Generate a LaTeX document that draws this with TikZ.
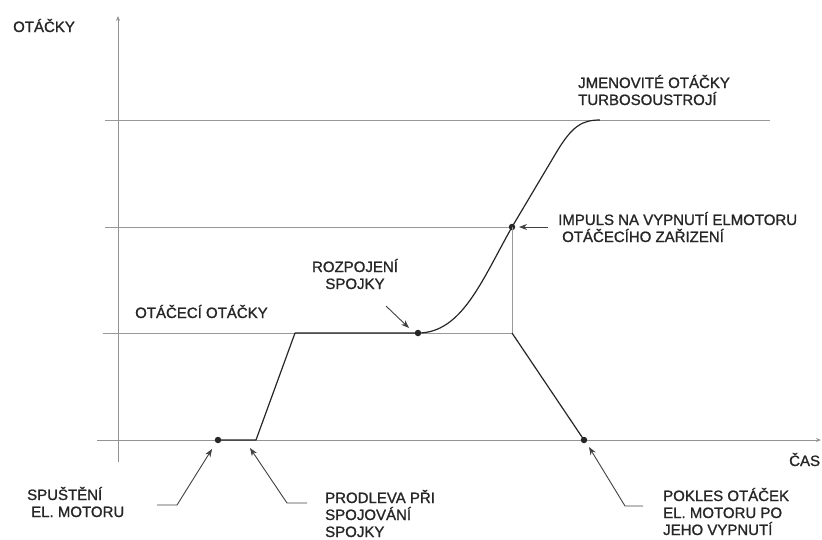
\documentclass[tikz,border=0pt]{standalone}
\usepackage{fontspec}
\setmainfont{Liberation Sans}
\newfontfamily\labelfont{Liberation Sans}[FakeBold=1.2]
\usetikzlibrary{arrows.meta,positioning}

\begin{document}
\begin{tikzpicture}[x = 1pt, y = -1pt,
  axis/.style = {draw = gray!85, line width = 0.8pt, -{Stealth[length = 5pt, width = 4pt]}},
  gridline/.style = {draw = gray!80, line width = 0.8pt},
  speed/.style = {draw = black!85, line width = 1.2pt, line join = round},
  leader/.style = {draw = black!75, line width = 0.9pt, -{Stealth[length = 8pt, width = 6pt]}},
  textlabel/.style = {font = \labelfont\fontsize{15}{17}\selectfont, text = black!85, inner sep = 0pt, align = left},
  dot/.style = {circle, fill = black!85, inner sep = 0pt, minimum size = 6.5pt}]
\useasboundingbox (0,0) rectangle (822,539);

% axes
\coordinate (ybot) at (118,462);
\coordinate (ytop) at (118,16);
\coordinate (xleft) at (97,440);
\coordinate (xright) at (821,440);
\draw[axis] (ybot) -- (ytop);
\draw[axis] (xleft) -- (xright);

% speed levels
\draw[gridline] (105,120) -- (770,120);
\draw[gridline] (105,227) -- (512,227);
\draw[gridline] (103,333) -- (512,333);

% points on the curve
\node[dot] (start) at (218,440) {};
\node[dot] (clutch) at (418,333) {};
\node[dot] (impulse) at (512,227) {};
\node[dot] (coast) at (584,440) {};
\coordinate (hold) at (256,440);
\coordinate (plateau) at (295,333);
\coordinate (steep) at (556,153);
\coordinate (rated) at (600,120);
\coordinate (cut) at (512,333);

\draw[speed] (start.center) -- (hold) -- (plateau) -- (clutch.center)
  .. controls (462,333) and (482,280) .. (impulse.center) -- (steep)
  .. controls (572,126) and (582,120) .. (rated);
\draw[gridline] (impulse.center) -- (cut);
\draw[speed] (cut) -- (coast.center);

% texts (base = last line)
\node[textlabel, anchor = base west] (ylabel) at (13,32) {OTÁČKY};
\node[textlabel, anchor = base west] (xlabel) at (789,466) {ČAS};
\node[textlabel, anchor = base west] (ratedlabel) at (578,105) {JMENOVITÉ OTÁČKY\\TURBOSOUSTROJÍ};
\node[textlabel, anchor = base west] (impulselabel) at (558,242) {IMPULS NA VYPNUTÍ ELMOTORU\\\hspace*{4pt}OTÁČECÍHO ZAŘIZENÍ};
\node[textlabel, align = center, anchor = base] (clutchlabel) at (355,289) {ROZPOJENÍ\\SPOJKY};
\node[textlabel, anchor = base west] (turnlabel) at (135,318) {OTÁČECÍ OTÁČKY};
\node[textlabel, anchor = base west] (startlabel) at (27,517) {SPUŠTĚNÍ\\\hspace*{4pt}EL. MOTORU};
\node[textlabel, anchor = base west] (holdlabel) at (325,537) {PRODLEVA PŘI\\SPOJOVÁNÍ\\SPOJKY};
\node[textlabel, anchor = base west] (coastlabel) at (663,535) {POKLES OTÁČEK\\EL. MOTORU PO\\JEHO VYPNUTÍ};

% leaders
\coordinate (startfoot) at (157,505);
\coordinate (startknee) at (177,505);
\coordinate (starttip) at (212,449);
\coordinate (holdfoot) at (307,503);
\coordinate (holdknee) at (287,503);
\coordinate (holdtip) at (250,448);
\coordinate (coastfoot) at (643,506);
\coordinate (coastknee) at (625,506);
\coordinate (coasttip) at (589,447);
\coordinate (clutchfoot) at (386,306);
\coordinate (clutchtip) at (409,328);
\coordinate (impulsefoot) at (548,227);
\coordinate (impulsetip) at (519,227);
\draw[leader] (startfoot) -- (startknee) -- (starttip);
\draw[leader] (holdfoot) -- (holdknee) -- (holdtip);
\draw[leader] (coastfoot) -- (coastknee) -- (coasttip);
\draw[leader] (clutchfoot) -- (clutchtip);
\draw[leader] (impulsefoot) -- (impulsetip);
\end{tikzpicture}
\end{document}
